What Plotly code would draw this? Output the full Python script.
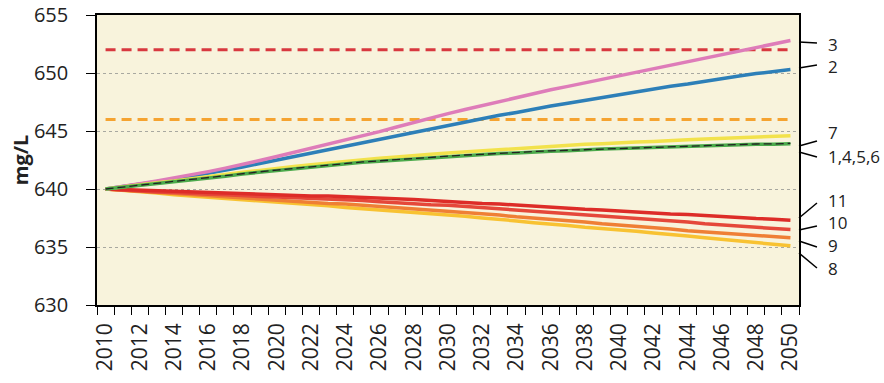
import plotly.graph_objects as go

years = list(range(2010, 2051))

s3 = [640.0, 640.2, 640.45, 640.7, 640.95, 641.2, 641.5, 641.8, 642.1, 642.45, 642.8,
      643.15, 643.5, 643.85, 644.2, 644.6, 644.95, 645.35, 645.75, 646.1, 646.5,
      646.85, 647.2, 647.55, 647.9, 648.2, 648.55, 648.85, 649.15, 649.5, 649.8,
      650.1, 650.4, 650.7, 651.0, 651.3, 651.6, 651.9, 652.2, 652.5, 652.8]
s2 = [640.0, 640.2, 640.4, 640.65, 640.85, 641.1, 641.35, 641.6, 641.9, 642.2, 642.5,
      642.8, 643.1, 643.4, 643.7, 644.0, 644.3, 644.6, 644.9, 645.2, 645.5,
      645.8, 646.05, 646.35, 646.6, 646.9, 647.15, 647.4, 647.65, 647.9, 648.1,
      648.35, 648.6, 648.85, 649.05, 649.3, 649.5, 649.75, 649.95, 650.15, 650.3]
s7 = [640.0, 640.2, 640.35, 640.55, 640.7, 640.9, 641.1, 641.25, 641.45, 641.6, 641.8,
      641.95, 642.1, 642.25, 642.4, 642.5, 642.65, 642.75, 642.9, 643.0, 643.1,
      643.2, 643.3, 643.4, 643.5, 643.6, 643.7, 643.75, 643.85, 643.9, 644.0,
      644.05, 644.1, 644.2, 644.25, 644.3, 644.35, 644.45, 644.5, 644.55, 644.6]
s1456 = [640.0, 640.15, 640.3, 640.5, 640.65, 640.8, 640.95, 641.1, 641.3, 641.45, 641.6,
         641.75, 641.9, 642.05, 642.15, 642.3, 642.4, 642.5, 642.6, 642.7, 642.8,
         642.9, 642.95, 643.05, 643.1, 643.2, 643.25, 643.3, 643.4, 643.45, 643.5,
         643.55, 643.6, 643.6, 643.65, 643.7, 643.75, 643.8, 643.85, 643.85, 643.9]
s_base = [640.0, 640.17, 640.33, 640.52, 640.68, 640.83, 640.98, 641.14, 641.33, 641.48, 641.63,
          641.78, 641.93, 642.08, 642.19, 642.33, 642.43, 642.54, 642.64, 642.74, 642.84,
          642.93, 642.99, 643.09, 643.14, 643.23, 643.29, 643.34, 643.43, 643.49, 643.54,
          643.59, 643.64, 643.65, 643.69, 643.74, 643.79, 643.84, 643.88, 643.89, 643.94]
s11 = [640.0, 639.95, 639.9, 639.85, 639.75, 639.7, 639.65, 639.6, 639.55, 639.5, 639.5,
       639.45, 639.4, 639.4, 639.35, 639.3, 639.25, 639.15, 639.1, 639.0, 638.9,
       638.85, 638.75, 638.7, 638.6, 638.5, 638.45, 638.35, 638.25, 638.2, 638.1,
       638.0, 637.95, 637.85, 637.8, 637.7, 637.6, 637.55, 637.45, 637.4, 637.3]
s10 = [640.0, 639.9, 639.85, 639.75, 639.7, 639.6, 639.55, 639.5, 639.4, 639.35, 639.3,
       639.25, 639.15, 639.1, 639.05, 639.0, 638.9, 638.8, 638.75, 638.65, 638.6,
       638.5, 638.4, 638.3, 638.2, 638.1, 638.0, 637.9, 637.8, 637.7, 637.6,
       637.5, 637.35, 637.25, 637.15, 637.0, 636.9, 636.8, 636.7, 636.6, 636.5]
s9 = [640.0, 639.9, 639.8, 639.7, 639.6, 639.5, 639.4, 639.3, 639.2, 639.1, 639.0,
      638.95, 638.85, 638.75, 638.7, 638.6, 638.5, 638.4, 638.3, 638.2, 638.1,
      638.0, 637.85, 637.75, 637.6, 637.5, 637.4, 637.25, 637.15, 637.0, 636.9,
      636.8, 636.65, 636.55, 636.4, 636.3, 636.2, 636.1, 636.0, 635.9, 635.8]
s8 = [640.0, 639.9, 639.75, 639.65, 639.5, 639.4, 639.3, 639.2, 639.1, 639.0, 638.9,
      638.75, 638.65, 638.55, 638.4, 638.3, 638.2, 638.1, 638.0, 637.9, 637.8,
      637.65, 637.5, 637.4, 637.25, 637.1, 637.0, 636.85, 636.7, 636.6, 636.5,
      636.35, 636.2, 636.1, 635.95, 635.8, 635.65, 635.5, 635.35, 635.2, 635.1]

limit_high = 652.0
limit_mid = 646.0

y_ticks = [630, 635, 640, 645, 650, 655]
x_ticks = list(range(2010, 2051, 2))

# label text, label y, leader start y, leader end y
labels = [
    ("3", 652.5, 652.67, 652.59),
    ("2", 650.52, 650.43, 650.69),
    ("7", 644.83, 643.71, 644.14),
    ("1,4,5,6", 642.84, 643.19, 642.76),
    ("11", 638.97, 637.5, 638.79),
    ("10", 637.07, 636.47, 636.81),
    ("9", 635.17, 635.52, 635.0),
    ("8", 633.19, 634.48, 633.19),
]

fig = go.Figure()

def line(y, color, width=3.5, dash=None):
    fig.add_trace(go.Scatter(x=years, y=y, mode="lines",
                             line=dict(color=color, width=width, dash=dash),
                             showlegend=False, hoverinfo="skip"))

line([limit_high] * len(years), "#d8383f", 3, "10px,6px")
line([limit_mid] * len(years), "#f5a330", 3, "10px,6px")
line(s8, "#f8c232")
line(s9, "#ef7f35")
line(s10, "#e5483a")
line(s11, "#dd2c28")
line(s2, "#2d7fb8")
line(s3, "#de7cb9")
line(s7, "#f2e24c")
line(s1456, "#4caa4c")
line(s_base, "#222222", 1.3, "8px,4px")

for text, ly, y0, y1 in labels:
    fig.add_shape(type="line", xref="paper", yref="y", x0=1.0, x1=1.0256, y0=y0, y1=y1,
                  line=dict(color="black", width=1.5))
    fig.add_annotation(text=text, xref="paper", yref="y", x=1.0385, y=ly,
                       xanchor="left", yanchor="middle", showarrow=False,
                       font=dict(size=17, color="#222222"))

font_family = "Open Sans, Liberation Sans, sans-serif"
fig.update_layout(
    width=884, height=383,
    margin=dict(l=97, r=85, t=15, b=78),
    paper_bgcolor="white",
    plot_bgcolor="#f8f3dc",
    font=dict(family=font_family, size=19, color="#222222"),
    xaxis=dict(
        range=[2009.5, 2050.5],
        tickvals=x_ticks, ticktext=[str(v) for v in x_ticks],
        tickangle=-90, ticks="", showgrid=False, automargin=False,
        showline=True, linecolor="black", linewidth=1.5, mirror=True,
        tickfont=dict(size=21), ticklabelstandoff=8, ticklabeloverflow="allow",
        minor=dict(tick0=2009.5, dtick=1, ticks="outside", ticklen=8,
                   tickcolor="black", tickwidth=1, showgrid=False),
        zeroline=False,
    ),
    yaxis=dict(
        range=[630, 655],
        tickvals=y_ticks, automargin=False,
        ticks="outside", ticklen=9, tickcolor="black",
        showline=True, linecolor="black", linewidth=1.5, mirror=True,
        showgrid=True, gridcolor="#a8a8a0", griddash="dot", gridwidth=1,
        zeroline=False, ticklabelstandoff=14, ticklabeloverflow="allow",
        title=dict(text="<b>mg/L</b>", font=dict(size=20), standoff=0),
        tickfont=dict(size=20),
    ),
)

fig.write_html("out.html", config={"displayModeBar": False},
               post_script="document.body.style.margin='0';document.body.style.overflow='hidden';")
